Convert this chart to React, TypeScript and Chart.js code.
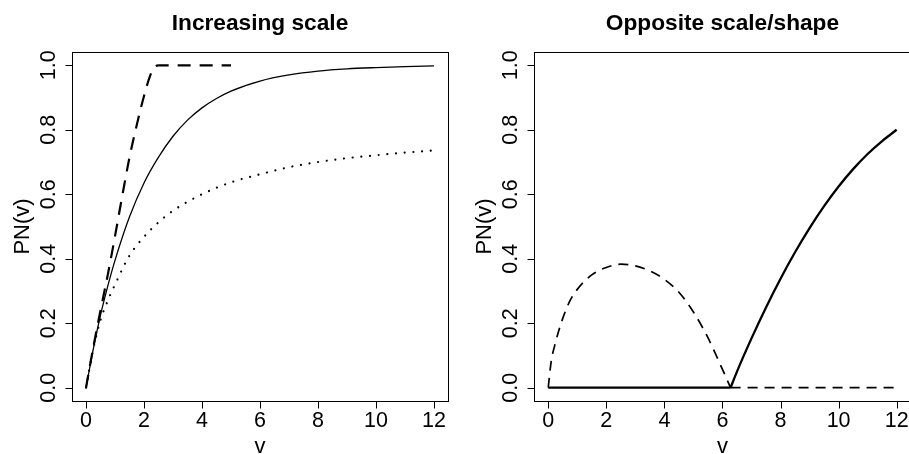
import React, { useEffect, useRef } from "react";
import { Chart, registerables } from "chart.js";

Chart.register(...registerables);

// ---------- data ----------
const xTicks = [0, 2, 4, 6, 8, 10, 12];
const xTickLabels = ["0", "2", "4", "6", "8", "10", "12"];
const yTicks = [0, 0.2, 0.4, 0.6, 0.8, 1.0];
const yTickLabels = ["0.0", "0.2", "0.4", "0.6", "0.8", "1.0"];

const leftTitle = "Increasing scale";
const rightTitle = "Opposite scale/shape";
const xLabel = "v";
const yLabel = "PN(v)";

// Left panel: solid curve
const leftSolidV = [0, 0.25, 0.5, 0.75, 1, 1.5, 2, 2.5, 3, 3.5, 4, 4.5, 5, 6, 7, 8, 9, 10, 11, 12];
const leftSolidP = [0, 0.12, 0.225, 0.315, 0.395, 0.53, 0.635, 0.715, 0.78, 0.83, 0.868, 0.897, 0.92, 0.951, 0.97, 0.982, 0.989, 0.993, 0.996, 0.998];

// Left panel: dashed curve
const leftDashedV = [0, 0.25, 0.5, 0.75, 1, 1.25, 1.5, 1.75, 2, 2.2, 2.35, 2.5, 5];
const leftDashedP = [0, 0.125, 0.24, 0.35, 0.47, 0.595, 0.715, 0.815, 0.905, 0.965, 0.993, 1, 1];

// Left panel: dotted curve
const leftDottedV = [0, 0.1, 0.25, 0.5, 0.75, 1, 1.5, 2, 2.5, 3, 4, 5, 6, 7, 8, 9, 10, 11, 12];
const leftDottedP = [0, 0.05, 0.12, 0.21, 0.27, 0.32, 0.41, 0.468, 0.513, 0.549, 0.6, 0.637, 0.662, 0.684, 0.7, 0.712, 0.721, 0.729, 0.736];

// Right panel: solid curve (flat part, then rising part)
const rightSolidFlatV = [0, 6.28];
const rightSolidFlatP = [0, 0];
const rightSolidRiseV = [6.28, 6.5, 7, 7.5, 8, 8.5, 9, 9.5, 10, 10.5, 11, 11.5, 12];
const rightSolidRiseP = [0, 0.05, 0.153, 0.249, 0.338, 0.42, 0.495, 0.563, 0.624, 0.678, 0.725, 0.765, 0.8];

// Right panel: dashed curve (arc, then flat part)
const rightDashedArcV = [0, 0.1, 0.25, 0.5, 0.75, 1, 1.5, 2, 2.5, 3, 3.5, 4, 4.5, 5, 5.5, 5.75, 6, 6.28];
const rightDashedArcP = [0, 0.08, 0.14, 0.215, 0.27, 0.305, 0.35, 0.373, 0.383, 0.378, 0.362, 0.336, 0.296, 0.235, 0.155, 0.107, 0.057, 0];
const rightDashedFlatV = [6.28, 12];
const rightDashedFlatP = [0, 0];

// ---------- helpers ----------
const FONT = "'Liberation Sans', Arial, Helvetica, sans-serif";
const TICK_PX = 21.5;
const LAB_PX = 22;
const TITLE_PX = 22.7;

function pts(v: number[], p: number[]) {
  return v.map((x, i) => ({ x, y: p[i] }));
}

function lineDs(v: number[], p: number[], width: number, dash: number[], cap: CanvasLineCap = "butt") {
  return {
    data: pts(v, p),
    showLine: true,
    borderColor: "#000",
    backgroundColor: "#000",
    borderWidth: width,
    borderDash: dash,
    borderCapStyle: cap,
    borderJoinStyle: "round" as CanvasLineJoin,
    pointRadius: 0,
    pointHoverRadius: 0,
    fill: false,
    cubicInterpolationMode: "monotone" as const,
  };
}

function rBasePlugin(title: string) {
  return {
    id: "rbase",
    afterDraw(chart: any) {
      const ctx: CanvasRenderingContext2D = chart.ctx;
      const { left, right, top, bottom } = chart.chartArea;
      const xs = chart.scales.x;
      const ys = chart.scales.y;
      ctx.save();
      ctx.strokeStyle = "#000";
      ctx.fillStyle = "#000";
      ctx.lineWidth = 1;
      ctx.setLineDash([]);
      // box
      ctx.strokeRect(Math.round(left) + 0.5, Math.round(top) + 0.5, Math.round(right) - Math.round(left), Math.round(bottom) - Math.round(top));
      // x ticks
      const by = Math.round(bottom) + 0.5;
      ctx.font = `${TICK_PX}px ${FONT}`;
      ctx.textAlign = "center";
      ctx.textBaseline = "alphabetic";
      xTicks.forEach((t, i) => {
        const px = Math.round(xs.getPixelForValue(t)) + 0.5;
        ctx.beginPath();
        ctx.moveTo(px, by);
        ctx.lineTo(px, by + 7);
        ctx.stroke();
        ctx.fillText(xTickLabels[i], xs.getPixelForValue(t), bottom + 26.3);
      });
      // y ticks
      const lx = Math.round(left) + 0.5;
      yTicks.forEach((t, i) => {
        const py = Math.round(ys.getPixelForValue(t)) + 0.5;
        ctx.beginPath();
        ctx.moveTo(lx, py);
        ctx.lineTo(lx - 7, py);
        ctx.stroke();
        ctx.save();
        ctx.translate(left - 17, ys.getPixelForValue(t));
        ctx.rotate(-Math.PI / 2);
        ctx.textAlign = "center";
        ctx.textBaseline = "alphabetic";
        ctx.fillText(yTickLabels[i], 0, 0);
        ctx.restore();
      });
      // axis titles
      ctx.font = `${LAB_PX}px ${FONT}`;
      ctx.textAlign = "center";
      ctx.fillText(xLabel, (left + right) / 2, bottom + 52.5);
      ctx.save();
      ctx.translate(left - 43, (top + bottom) / 2);
      ctx.rotate(-Math.PI / 2);
      ctx.fillText(yLabel, 0, 0);
      ctx.restore();
      // main title
      ctx.font = `bold ${TITLE_PX}px ${FONT}`;
      ctx.fillText(title, (left + right) / 2, 30);
      ctx.restore();
    },
  };
}

function makeChart(canvas: HTMLCanvasElement, datasets: any[], title: string, padding: any) {
  return new Chart(canvas, {
    type: "scatter",
    data: { datasets },
    options: {
      animation: false,
      responsive: false,
      events: [],
      layout: { padding },
      plugins: { legend: { display: false }, tooltip: { enabled: false }, title: { display: false } },
      scales: {
        x: { type: "linear", min: -0.48, max: 12.48, display: false },
        y: { type: "linear", min: -0.04, max: 1.04, display: false },
      },
    } as any,
    plugins: [rBasePlugin(title)],
  });
}

export default function App() {
  const leftRef = useRef<HTMLCanvasElement>(null);
  const rightRef = useRef<HTMLCanvasElement>(null);

  useEffect(() => {
    const left = makeChart(
      leftRef.current!,
      [
        lineDs(leftDottedV, leftDottedP, 2.2, [0.01, 8.7], "round"),
        lineDs(leftDashedV, leftDashedP, 2.2, [13, 9]),
        lineDs(leftSolidV, leftSolidP, 1.3, []),
      ],
      leftTitle,
      { left: 72.1, right: 455 - 447.9, top: 52.4, bottom: 454 - 400.6 }
    );
    const right = makeChart(
      rightRef.current!,
      [
        lineDs(rightDashedArcV, rightDashedArcP, 1.7, [10, 7]),
        lineDs(rightDashedFlatV, rightDashedFlatP, 1.7, [10, 7]),
        lineDs(rightSolidFlatV, rightSolidFlatP, 2.3, []),
        lineDs(rightSolidRiseV, rightSolidRiseP, 2.3, []),
      ],
      rightTitle,
      { left: 534.3 - 455, right: 470 - (910.6 - 455), top: 52.4, bottom: 454 - 400.6 }
    );
    return () => {
      left.destroy();
      right.destroy();
    };
  }, []);

  return (
    <div style={{ position: "fixed", left: 0, top: 0, width: 909, height: 454, overflow: "hidden", background: "#fff" }}>
      <canvas ref={leftRef} width={455} height={454} style={{ position: "absolute", left: 0, top: 0, width: 455, height: 454 }} />
      <div style={{ position: "absolute", left: 455, top: 0, width: 454, height: 454, overflow: "hidden" }}>
        <canvas ref={rightRef} width={470} height={454} style={{ position: "absolute", left: 0, top: 0, width: 470, height: 454 }} />
      </div>
    </div>
  );
}
